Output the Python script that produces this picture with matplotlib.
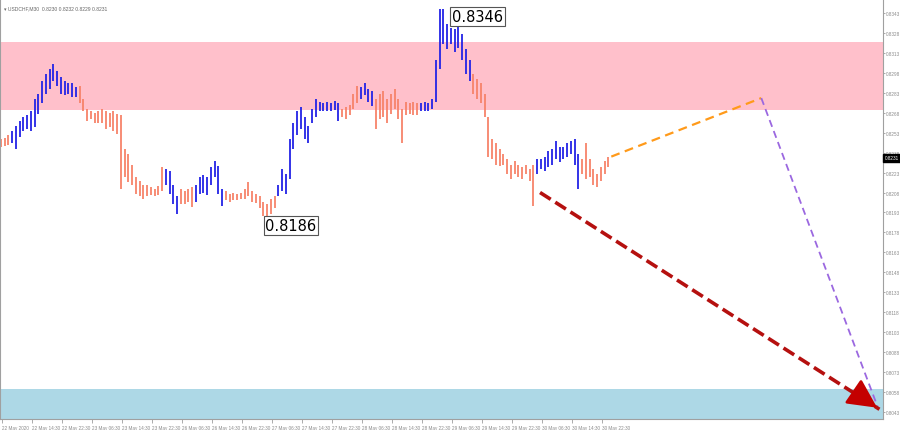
import numpy as np
import matplotlib.pyplot as plt
from matplotlib.patches import Rectangle

# --- price bars (each entry = 2 bars of M30) ---
bar_high = [
    0.8248, 0.8249, 0.8251, 0.8254, 0.8258, 0.8262, 0.8265, 0.8266, 0.8269, 0.8278,
    0.8282, 0.8292, 0.8297, 0.8301, 0.8305, 0.8299, 0.8295, 0.8292, 0.8290, 0.8290,
    0.8287, 0.8288, 0.8278, 0.8271, 0.8269, 0.8268, 0.8269, 0.8271, 0.8269, 0.8268,
    0.8269, 0.8267, 0.8266, 0.8241, 0.8237, 0.8229, 0.8220, 0.8217, 0.8214, 0.8214,
    0.8212, 0.8211, 0.8213, 0.8227, 0.8226, 0.8224, 0.8214, 0.8205, 0.8211, 0.8209,
    0.8211, 0.8212, 0.8214, 0.8220, 0.8221, 0.8220, 0.8227, 0.8232, 0.8228, 0.8211,
    0.8209, 0.8207, 0.8208, 0.8207, 0.8208, 0.8211, 0.8216, 0.8209, 0.8207, 0.8205,
    0.8201, 0.8199, 0.8203, 0.8205, 0.8214, 0.8226, 0.8222, 0.8248, 0.8260, 0.8269,
    0.8272, 0.8265, 0.8258, 0.8271, 0.8278, 0.8276, 0.8275, 0.8276, 0.8275, 0.8277,
    0.8275, 0.8271, 0.8272, 0.8274, 0.8282, 0.8288, 0.8287, 0.8290, 0.8286, 0.8284,
    0.8278, 0.8282, 0.8284, 0.8278, 0.8282, 0.8286, 0.8278, 0.8271, 0.8276, 0.8275,
    0.8276, 0.8275, 0.8275, 0.8276, 0.8275, 0.8278, 0.8308, 0.8346, 0.8346, 0.8335,
    0.8332, 0.8331, 0.8337, 0.8327, 0.8316, 0.8308, 0.8297, 0.8293, 0.8290, 0.8282,
    0.8265, 0.8248, 0.8245, 0.8241, 0.8237, 0.8233, 0.8229, 0.8232, 0.8229, 0.8227,
    0.8229, 0.8226, 0.8229, 0.8233, 0.8233, 0.8235, 0.8239, 0.8241, 0.8247, 0.8242,
    0.8242, 0.8245, 0.8247, 0.8248, 0.8237, 0.8233, 0.8245, 0.8233, 0.8226, 0.8222,
    0.8227, 0.8232, 0.8235,
]
bar_low = [
    0.8242, 0.8243, 0.8244, 0.8245, 0.8241, 0.8250, 0.8254, 0.8256, 0.8254, 0.8257,
    0.8267, 0.8275, 0.8282, 0.8286, 0.8292, 0.8288, 0.8282, 0.8281, 0.8282, 0.8280,
    0.8280, 0.8275, 0.8269, 0.8262, 0.8263, 0.8260, 0.8260, 0.8260, 0.8256, 0.8257,
    0.8254, 0.8252, 0.8211, 0.8220, 0.8216, 0.8214, 0.8207, 0.8205, 0.8203, 0.8205,
    0.8206, 0.8205, 0.8206, 0.8209, 0.8214, 0.8207, 0.8199, 0.8192, 0.8199, 0.8199,
    0.8201, 0.8197, 0.8201, 0.8207, 0.8208, 0.8206, 0.8214, 0.8220, 0.8207, 0.8198,
    0.8202, 0.8201, 0.8202, 0.8202, 0.8203, 0.8203, 0.8205, 0.8201, 0.8200, 0.8196,
    0.8190, 0.8186, 0.8192, 0.8196, 0.8205, 0.8209, 0.8207, 0.8218, 0.8241, 0.8251,
    0.8256, 0.8248, 0.8245, 0.8260, 0.8265, 0.8269, 0.8269, 0.8269, 0.8269, 0.8270,
    0.8262, 0.8265, 0.8263, 0.8266, 0.8271, 0.8275, 0.8278, 0.8281, 0.8276, 0.8273,
    0.8256, 0.8263, 0.8265, 0.8260, 0.8267, 0.8271, 0.8263, 0.8245, 0.8266, 0.8267,
    0.8266, 0.8266, 0.8269, 0.8269, 0.8269, 0.8271, 0.8276, 0.8301, 0.8320, 0.8316,
    0.8320, 0.8314, 0.8317, 0.8308, 0.8297, 0.8292, 0.8282, 0.8278, 0.8275, 0.8265,
    0.8235, 0.8233, 0.8229, 0.8228, 0.8229, 0.8222, 0.8218, 0.8222, 0.8220, 0.8218,
    0.8222, 0.8217, 0.8198, 0.8222, 0.8226, 0.8224, 0.8227, 0.8229, 0.8233, 0.8231,
    0.8233, 0.8235, 0.8237, 0.8229, 0.8211, 0.8222, 0.8218, 0.8220, 0.8214, 0.8212,
    0.8217, 0.8222, 0.8227,
]
# wave colouring: index where each wave starts and its direction
wave_starts = [0, 3, 21, 44, 48, 52, 60, 74, 91, 96, 100, 112, 126, 143, 155]
wave_dirs = ["down", "up", "down", "up", "down", "up", "down", "up",
             "down", "up", "down", "up", "down", "up", "down"]

# zones
resist_zone = (0.8270, 0.8321)
support_top = 0.8060

# forecast paths (bar number, price)
path_x = [326, 406, 468]
path_y = [0.8235, 0.8279, 0.8047]
main_x = [288, 469]
main_y = [0.8208, 0.8045]

# axis labels
price_ticks = [0.8343, 0.8328, 0.8313, 0.8298, 0.8283, 0.8268, 0.8253, 0.8238,
               0.8223, 0.8208, 0.8193, 0.8178, 0.8163, 0.8148, 0.8133, 0.8118,
               0.8103, 0.8088, 0.8073, 0.8058, 0.8043]
time_labels = ["22 May 2020", "22 May 14:30", "22 May 22:30", "23 May 06:30",
               "23 May 14:30", "23 May 22:30", "26 May 06:30", "26 May 14:30",
               "26 May 22:30", "27 May 06:30", "27 May 14:30", "27 May 22:30",
               "28 May 06:30", "28 May 14:30", "28 May 22:30", "29 May 06:30",
               "29 May 14:30", "29 May 22:30", "30 May 06:30", "30 May 14:30",
               "30 May 22:30"]
last_price = 0.8231

UP = "#2323e6"
DOWN = "#f7836a"
GREY = "#8a8a8a"
SMALL = ["Liberation Sans", "DejaVu Sans"]

fig = plt.figure(figsize=(9, 4.31), dpi=100)
ax = fig.add_axes([0, 11 / 431, 883 / 900, 420 / 431])
ymin, ymax = 0.80377, 0.83535
xmax = 470.9
ax.set_xlim(0, xmax)
ax.set_ylim(ymin, ymax)

# zones
ax.add_patch(Rectangle((0, resist_zone[0]), xmax, resist_zone[1] - resist_zone[0],
                       color="#ffc0cb", lw=0, zorder=0))
ax.add_patch(Rectangle((0, ymin - 0.01), xmax, support_top - ymin + 0.01,
                       color="#add8e6", lw=0, zorder=0))

# bars
bx = np.arange(len(bar_high)) * 2 + 0.5
colors = []
for i in range(len(bar_high)):
    j = max(k for k, s in enumerate(wave_starts) if s <= i)
    colors.append(UP if wave_dirs[j] == "up" else DOWN)
ax.vlines(bx, bar_low, bar_high, colors=colors, linewidth=1.3, zorder=2)

# forecast lines
ax.plot(path_x[:2], path_y[:2], ls=(0, (4, 2.5)), color="#ff9a1a", lw=1.6, zorder=3)
ax.plot(path_x[1:], path_y[1:], ls=(0, (4, 2.5)), color="#9b68e0", lw=1.3, zorder=3)
ax.plot(main_x, main_y, ls=(0, (3.5, 1.5)), color="#b5100f", lw=2.6, zorder=4)
ax.annotate("", xy=(main_x[1], main_y[1]),
            xytext=(main_x[1] - 8, main_y[1] + 0.00077),
            arrowprops=dict(arrowstyle="-|>,head_length=1.2,head_width=0.6",
                            color="#c40000", lw=2.0, mutation_scale=15), zorder=5)

# extreme labels
box = dict(boxstyle="square,pad=0.12", fc="white", ec="#555555", lw=0.8)
ax.text(241, 0.8346, "0.8346", fontsize=10.5, va="top", ha="left", bbox=box, zorder=6)
ax.text(141.5, 0.8189, "0.8186", fontsize=10.5, va="top", ha="left", bbox=box, zorder=6)

# axes styling
ax.spines["top"].set_visible(False)
for side in ["left", "right", "bottom"]:
    ax.spines[side].set_color("#a0a0a0")
    ax.spines[side].set_linewidth(0.8)
ax.yaxis.tick_right()
ax.set_yticks(price_ticks)
ax.set_yticklabels([f"{p:.4f}" for p in price_ticks], fontfamily=SMALL)
ax.set_xticks(np.arange(len(time_labels)) * 16 + 1)
ax.set_xticklabels(time_labels, fontfamily=SMALL)
ax.tick_params(axis="y", labelsize=3.3, colors=GREY, length=1.5, width=0.5, pad=0.8)
ax.tick_params(axis="x", labelsize=3.3, colors=GREY, length=3, width=0.5, pad=1)
for lab in ax.get_xticklabels():
    lab.set_horizontalalignment("left")

# current price marker on the price scale
ax.text(1.002, (last_price + 0.0003 - ymin) / (ymax - ymin), f"{last_price:.4f}",
        transform=ax.transAxes, fontsize=3.3, family=SMALL, color="white",
        va="center", ha="left",
        bbox=dict(boxstyle="square,pad=0.4", fc="black", ec="black"), clip_on=False)

fig.text(0.004, 0.986, "\u25be USDCHF,M30  0.8230 0.8232 0.8229 0.8231",
         fontsize=3.6, family=SMALL, color="#666666", va="top", ha="left")

fig.savefig("out.png", dpi=100)
